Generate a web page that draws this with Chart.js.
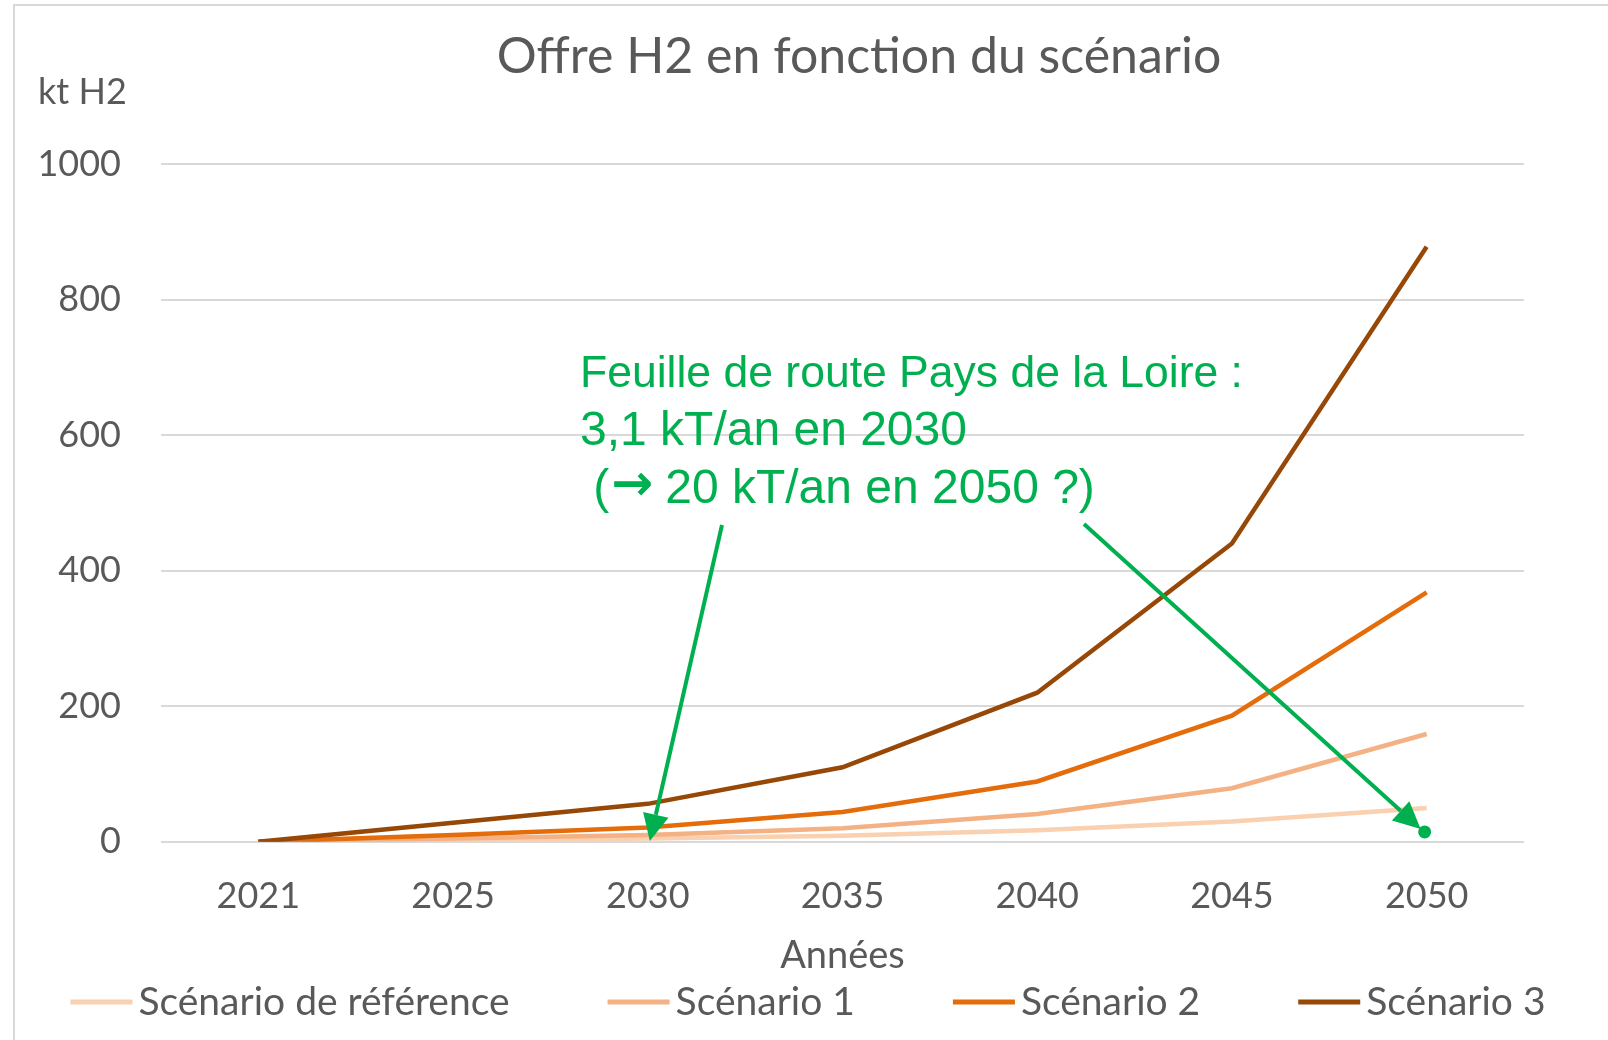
<!DOCTYPE html>
<html lang="fr">
<head>
<meta charset="utf-8">
<title>Offre H2 en fonction du scénario</title>
<script src="https://cdn.jsdelivr.net/npm/chart.js@4.4.1/dist/chart.umd.min.js"></script>
<style>
    html, body { margin: 0; padding: 0; background: #fff; overflow: hidden; }
    #wrap { position: relative; width: 1608px; height: 1040px; }
    #frame {
        position: absolute; left: 13px; top: 4px; width: 1700px; height: 1100px;
        border-left: 2px solid #d9d9d9; border-top: 2px solid #d9d9d9;
        pointer-events: none;
    }
</style>
</head>
<body>
<div id="wrap">
    <canvas id="h2Chart"></canvas>
    <div id="frame"></div>
</div>
<script>
// --- data ---
const years = ['2021', '2025', '2030', '2035', '2040', '2045', '2050'];
const seriesNames = ['Scénario de référence', 'Scénario 1', 'Scénario 2', 'Scénario 3'];
const scenarioRef = [0, 2, 5, 9, 17, 30, 50];
const scenario1 = [0, 5, 10, 20, 41, 79, 159];
const scenario2 = [0, 10, 21, 44, 89, 186, 368];
const scenario3 = [0, 28, 56, 110, 220, 440, 878];
const yTicks = [0, 200, 400, 600, 800, 1000];

const COLORS = ['#F9D0B0', '#F4B183', '#E46C0A', '#974706'];
const TEXT = '#595959';
const GREEN = '#00B050';
const NARROW = '"Liberation Sans Narrow", "Arial Narrow", sans-serif';

// title, unit label, x title, green note with arrows, legend
const overlay = {
    id: 'overlay',
    afterDraw(chart) {
        const { ctx, chartArea, scales: { x, y } } = chart;
        ctx.save();

        ctx.fillStyle = TEXT;
        ctx.textBaseline = 'middle';
        ctx.textAlign = 'center';
        ctx.font = '50px Lato';
        ctx.fillText('Offre H2 en fonction du scénario', 859, 57);
        ctx.font = '38px Lato';
        ctx.fillText('Années', (chartArea.left + chartArea.right) / 2, 956);
        ctx.textAlign = 'left';
        ctx.font = '36px Lato';
        ctx.fillText('kt H2', 38, 92);

        // note
        ctx.fillStyle = GREEN;
        ctx.textBaseline = 'alphabetic';
        ctx.font = '44.5px ' + NARROW;
        ctx.fillText('Feuille de route Pays de la Loire :', 580, 387);
        const bigFont = '48px ' + NARROW;
        ctx.font = bigFont;
        ctx.fillText('3,1 kT/an en 2030', 580, 445);
        let tx = 580;
        ctx.fillText(' (', tx, 503);
        tx += ctx.measureText(' (').width + 2;
        ctx.font = 'bold 50px "DejaVu Sans"';
        ctx.fillText('\u2192', tx, 500);
        tx += ctx.measureText('\u2192').width + 12;
        ctx.font = bigFont;
        ctx.fillText('20 kT/an en 2050 ?)', tx, 503);

        const arrow = (x0, y0, x1, y1, dot) => {
            const ang = Math.atan2(y1 - y0, x1 - x0);
            const len = 27, half = 13;
            const bx = x1 - len * Math.cos(ang), by = y1 - len * Math.sin(ang);
            ctx.strokeStyle = GREEN;
            ctx.lineWidth = 4;
            ctx.beginPath();
            ctx.moveTo(x0, y0);
            ctx.lineTo(bx, by);
            ctx.stroke();
            ctx.beginPath();
            ctx.moveTo(x1, y1);
            ctx.lineTo(bx + half * Math.sin(ang), by - half * Math.cos(ang));
            ctx.lineTo(bx - half * Math.sin(ang), by + half * Math.cos(ang));
            ctx.closePath();
            ctx.fillStyle = GREEN;
            ctx.fill();
            if (dot) {
                ctx.beginPath();
                ctx.arc(x1 + 4, y1 + 3, 6.5, 0, Math.PI * 2);
                ctx.fill();
            }
        };
        arrow(722, 525, x.getPixelForValue(2) + 2, y.getPixelForValue(1), false);
        arrow(1084, 524, x.getPixelForValue(6) - 6, y.getPixelForValue(19), true);

        // legend
        ctx.font = '39px Lato';
        ctx.textBaseline = 'middle';
        const sw = 62, gapText = 6, gapItem = 98;
        const items = chart.data.datasets.map(ds => ({ ds, w: sw + gapText + ctx.measureText(ds.label).width }));
        const total = items.reduce((s, it) => s + it.w, 0) + gapItem * (items.length - 1);
        let lx = chart.width / 2 - total / 2 + 4;
        const ly = 1002;
        items.forEach(it => {
            ctx.strokeStyle = it.ds.borderColor;
            ctx.lineWidth = 5;
            ctx.beginPath();
            ctx.moveTo(lx, ly);
            ctx.lineTo(lx + sw, ly);
            ctx.stroke();
            ctx.fillStyle = TEXT;
            ctx.fillText(it.ds.label, lx + sw + gapText, ly);
            lx += it.w + gapItem;
        });

        ctx.restore();
    }
};

const datasetValues = [scenarioRef, scenario1, scenario2, scenario3];

new Chart(document.getElementById('h2Chart').getContext('2d'), {
    type: 'line',
    data: {
        labels: years,
        datasets: datasetValues.map((vals, i) => ({
            label: seriesNames[i],
            data: vals,
            borderColor: COLORS[i],
            backgroundColor: COLORS[i],
            borderWidth: 4.5,
            pointRadius: 0,
            tension: 0,
            fill: false,
            order: datasetValues.length - i
        }))
    },
    options: {
        responsive: true,
        maintainAspectRatio: false,
        animation: false,
        layout: { padding: { top: 164, left: 38, right: 84, bottom: 97 } },
        plugins: {
            legend: { display: false },
            title: { display: false },
            tooltip: { enabled: false }
        },
        scales: {
            x: {
                offset: true,
                grid: { display: false },
                border: { display: false },
                ticks: { color: TEXT, font: { family: 'Lato', size: 36 }, padding: 25 }
            },
            y: {
                min: 0,
                max: 1000,
                afterBuildTicks: axis => { axis.ticks = yTicks.map(v => ({ value: v })); },
                afterFit: axis => { axis.width = 123; },
                grid: { color: '#d9d9d9', lineWidth: 2, drawTicks: false },
                border: { display: false },
                ticks: {
                    color: TEXT,
                    font: { family: 'Lato', size: 36 },
                    padding: 40,
                    callback: v => String(v)
                }
            }
        }
    },
    plugins: [overlay]
});
</script>
</body>
</html>
